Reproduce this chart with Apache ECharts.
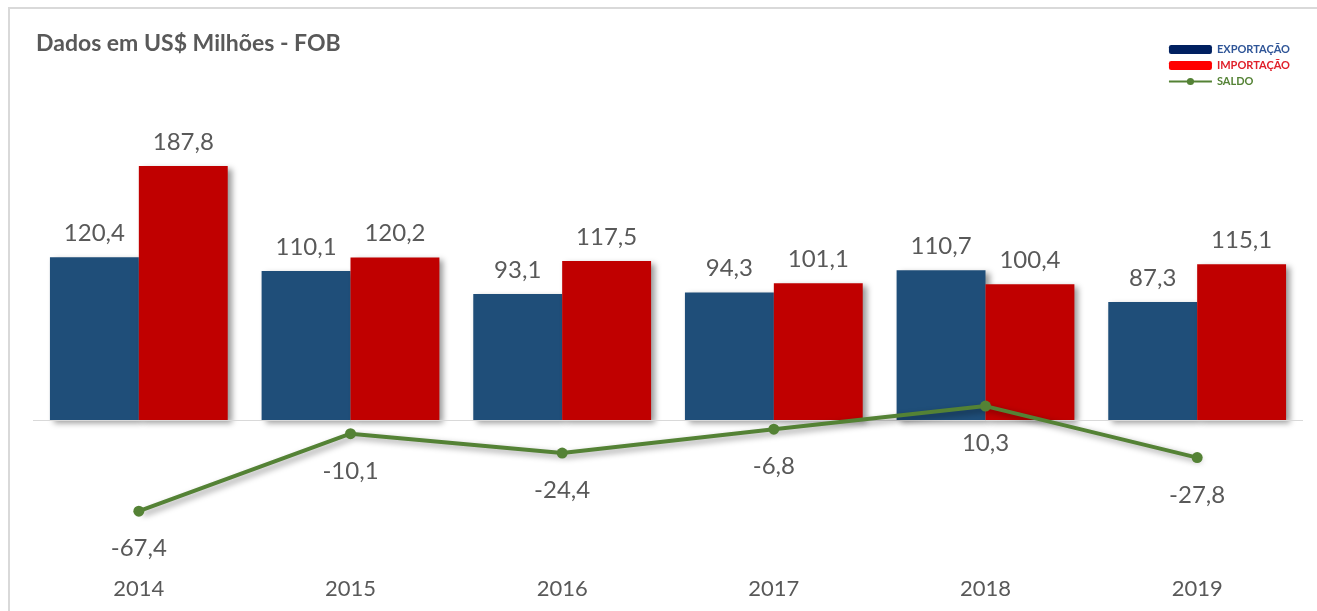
<!DOCTYPE html>
<html><head><meta charset="utf-8">
<script src="https://cdn.jsdelivr.net/npm/echarts@6/dist/echarts.min.js"></script>
<style>html,body{margin:0;padding:0;background:#fff}#c{width:1317px;height:611px}</style>
</head><body><div id="c"></div>
<script>
const categories = ['2014','2015','2016','2017','2018','2019'];
const exportacao = [120.4, 110.1, 93.1, 94.3, 110.7, 87.3];
const importacao = [187.8, 120.2, 117.5, 101.1, 100.4, 115.1];
const saldo = [-67.4, -10.1, -24.4, -6.8, 10.3, -27.8];
const seriesNames = ['EXPORTAÇÃO','IMPORTAÇÃO','SALDO'];

const fmt = v => v.value.toFixed(1).replace('.', ',');
const font = 'Lato, "Open Sans", sans-serif';
const shadow = {shadowColor:'rgba(0,0,0,0.4)', shadowBlur:6, shadowOffsetX:4, shadowOffsetY:3};

const chart = echarts.init(document.getElementById('c'));
chart.setOption({
  animation:false,
  textStyle:{fontFamily:font},
  graphic:[
    {type:'rect', shape:{x:9,y:8,width:1400,height:700}, style:{fill:'none', stroke:'#d9d9d9', lineWidth:2}, silent:true},
    {type:'text', left:36, top:32, style:{text:'Dados em US$ Milhões - FOB', fill:'#595959', font:'bold 23px '+font}}
  ],
  legend:{
    orient:'vertical', right:22, top:39, itemGap:5, itemWidth:43, itemHeight:9,
    textStyle:{fontSize:11, fontWeight:'bold', fontFamily:font},
    data:[
      {name:seriesNames[0], itemStyle:{color:'#002060', shadowBlur:0, shadowOffsetX:0, shadowOffsetY:0}, textStyle:{color:'#2F5597'}},
      {name:seriesNames[1], itemStyle:{color:'#FF0000', shadowBlur:0, shadowOffsetX:0, shadowOffsetY:0}, textStyle:{color:'#E0202A'}},
      {name:seriesNames[2], textStyle:{color:'#548235'}}
    ]
  },
  grid:{left:33, right:14, top:149.5, bottom:42.2, containLabel:false},
  xAxis:{type:'category', data:categories,
    axisLine:{show:false}, axisTick:{show:false},
    axisLabel:{color:'#595959', fontSize:22, margin:9, fontFamily:font}},
  yAxis:{type:'value', min:-110, max:200, show:false, splitLine:{show:false}},
  series:[
    {name:seriesNames[0], type:'bar', data:exportacao, barGap:'0%', barCategoryGap:'16%',
     itemStyle:Object.assign({color:'#1F4E79'}, shadow),
     label:{show:true, position:'top', distance:12, color:'#595959', fontSize:24, formatter:fmt, fontFamily:font},
     markLine:{silent:true, symbol:'none', label:{show:false}, lineStyle:{color:'#d9d9d9', width:1, type:'solid'}, data:[{yAxis:0}]}},
    {name:seriesNames[1], type:'bar', data:importacao,
     itemStyle:Object.assign({color:'#C00000'}, shadow),
     label:{show:true, position:'top', distance:12, color:'#595959', fontSize:24, formatter:fmt, fontFamily:font}},
    {name:seriesNames[2], type:'line', data:saldo, symbol:'circle', symbolSize:11, z:5,
     lineStyle:Object.assign({color:'#548235', width:4}, shadow),
     itemStyle:{color:'#548235'},
     label:{show:true, position:'bottom', distance:20, color:'#595959', fontSize:24, formatter:fmt, fontFamily:font}}
  ]
});
</script></body></html>
